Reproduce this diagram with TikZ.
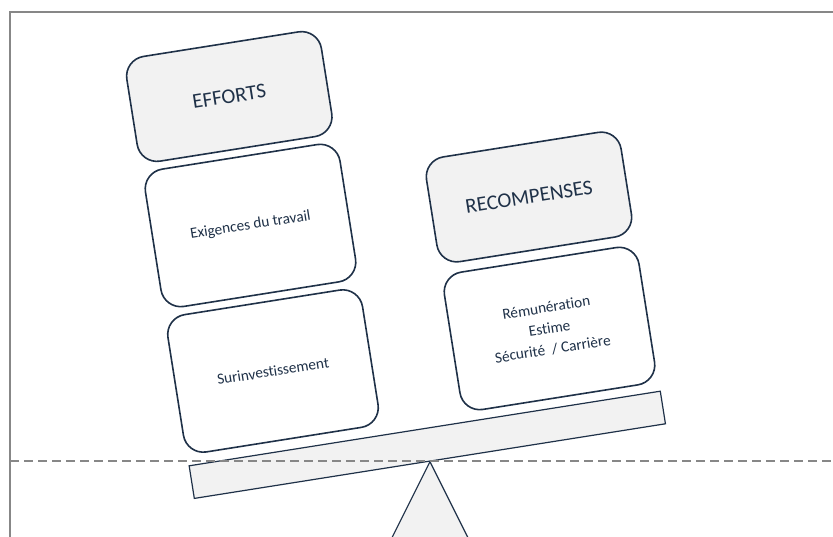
\documentclass[tikz,border=0pt]{standalone}
\usepackage{fontspec}
\setmainfont[Ligatures=NoCommon]{Carlito}
\usepackage{tikz}
\definecolor{navy}{HTML}{1F3148}
\definecolor{panel}{HTML}{F2F2F2}
\definecolor{rule}{HTML}{878787}

\begin{document}
\begin{tikzpicture}[x=1pt, y=-1pt]
    \tikzstyle{every node}=[rotate=9, draw=navy, text=navy, inner sep=0pt]
    \tikzstyle{card}=[rectangle, rounded corners=20pt, line width=1.6pt, minimum width=197pt, minimum height=139pt, fill=white, align=center, font=\fontsize{15.3}{21}\selectfont]
    \tikzstyle{title}=[card, minimum height=106pt, fill=panel, font=\fontsize{21}{25}\selectfont]
    \tikzstyle{plank}=[rectangle, line width=1.2pt, fill=panel, minimum width=477pt, minimum height=33pt]

    \useasboundingbox (0,0) rectangle (833,536);
    \clip (0,0) rectangle (833,536);
    \draw[rule, line width=2pt] (10,11.5) rectangle (850,550);

    \node[plank] (beam) at (427.3,444.8) {};
    \draw[navy, line width=1.2pt, fill=panel] (beam.south) -- ++(-38,76) -- ++(76,0) -- cycle;
    \draw[rule, line width=2.9pt, dash pattern=on 9pt off 5pt] (10,461) -- (833,461);

    \node[title] (efforts) at (229.3,96.5) {EFFORTS};
    \node[card] (exigences) at (250.5,225.5) {Exigences du travail};
    \node[card] (surinvest) at (273,371) {Surinvestissement};
    \node[title] (recompenses) at (529,197) {RECOMPENSES};
    \node[card] (remuneration) at (549.5,328.5) {Rémunération\\Estime\\Sécurité~ / Carrière};
\end{tikzpicture}
\end{document}
